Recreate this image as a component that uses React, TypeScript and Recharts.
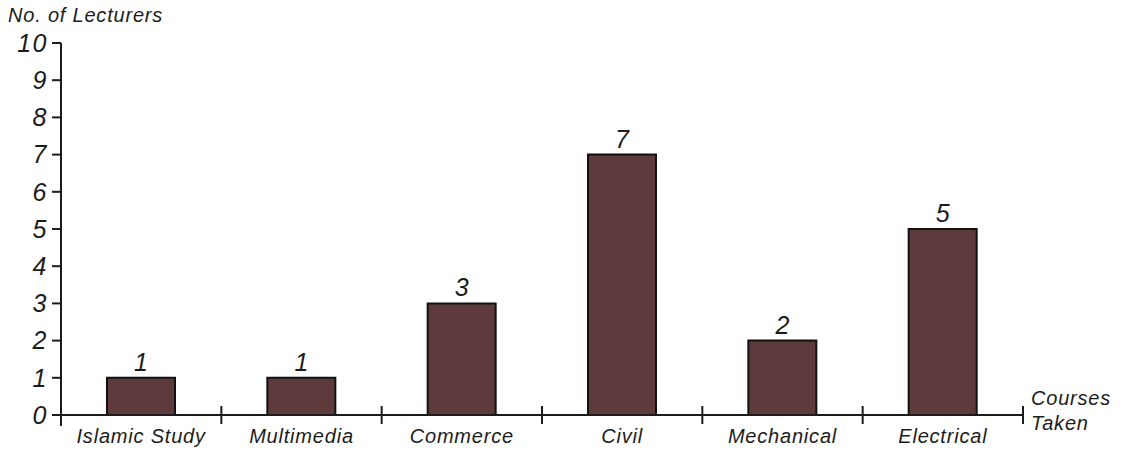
import React from "react";
import { Bar, BarChart, LabelList, XAxis, YAxis, Label } from "recharts";

const courses = ["Islamic Study", "Multimedia", "Commerce", "Civil", "Mechanical", "Electrical"];
const lecturers = [1, 1, 3, 7, 2, 5];
const yTicks = [0, 1, 2, 3, 4, 5, 6, 7, 8, 9, 10];

const data = courses.map((course, i) => ({ course, lecturers: lecturers[i] }));

const W = 1123;
const H = 451;
const MARGIN = { top: 43, right: 100, bottom: 0, left: 0 };
const Y_AXIS_W = 61;
const X_AXIS_H = 36;
const BAND = (W - MARGIN.left - MARGIN.right - Y_AXIS_W) / courses.length;

const INK = "#1c1c1c";
const FONT = "'Liberation Sans', Arial, sans-serif";
const textStyle = { fontFamily: FONT, fontStyle: "italic" as const, letterSpacing: "0.8px" };

function CourseTick(props: any) {
  const { x, y, payload, index } = props;
  return (
    <g>
      {index === 0 && (
        <line x1={x - BAND / 2} x2={x - BAND / 2} y1={y} y2={y + 11} stroke={INK} strokeWidth={2} />
      )}
      <line x1={x + BAND / 2} x2={x + BAND / 2} y1={y - 9} y2={y + 9} stroke={INK} strokeWidth={2} />
      <text x={x} y={y + 28} textAnchor="middle" fill={INK} fontSize={20} style={textStyle}>
        {payload.value}
      </text>
    </g>
  );
}

export default function App() {
  return (
    <div style={{ position: "absolute", left: 0, top: 0, background: "#fff" }}>
      <BarChart width={W} height={H} data={data} margin={MARGIN} barSize={68}>
        <XAxis
          dataKey="course"
          height={X_AXIS_H}
          axisLine={{ stroke: INK, strokeWidth: 2 }}
          tickLine={false}
          tickSize={0}
          tickMargin={0}
          interval={0}
          tick={(p: any) => <CourseTick {...p} />}
        >
          <Label
            content={(p: any) => {
              const vb = p.viewBox;
              const tx = vb.x + vb.width + 8;
              return (
                <text fill={INK} fontSize={20} style={textStyle}>
                  <tspan x={tx} y={vb.y - 10}>Courses</tspan>
                  <tspan x={tx} y={vb.y + 15}>Taken</tspan>
                </text>
              );
            }}
          />
        </XAxis>
        <YAxis
          width={Y_AXIS_W}
          domain={[0, 10]}
          ticks={yTicks}
          interval={0}
          axisLine={{ stroke: INK, strokeWidth: 2 }}
          tickLine={{ stroke: INK, strokeWidth: 2 }}
          tickSize={9}
          tickMargin={4}
          tick={{ fill: INK, fontSize: 25, fontFamily: FONT, fontStyle: "italic", letterSpacing: "1.5px" }}
        >
          <Label
            content={(p: any) => {
              const vb = p.viewBox;
              return (
                <text x={vb.x + 8} y={vb.y - 21} fill={INK} fontSize={20} style={textStyle}>
                  No. of Lecturers
                </text>
              );
            }}
          />
        </YAxis>
        <Bar dataKey="lecturers" fill="#5f3a3d" stroke="#111" strokeWidth={2} isAnimationActive={false}>
          <LabelList
            dataKey="lecturers"
            position="top"
            offset={7}
            fill={INK}
            fontSize={25}
            fontFamily={FONT}
            fontStyle="italic"
          />
        </Bar>
      </BarChart>
    </div>
  );
}
